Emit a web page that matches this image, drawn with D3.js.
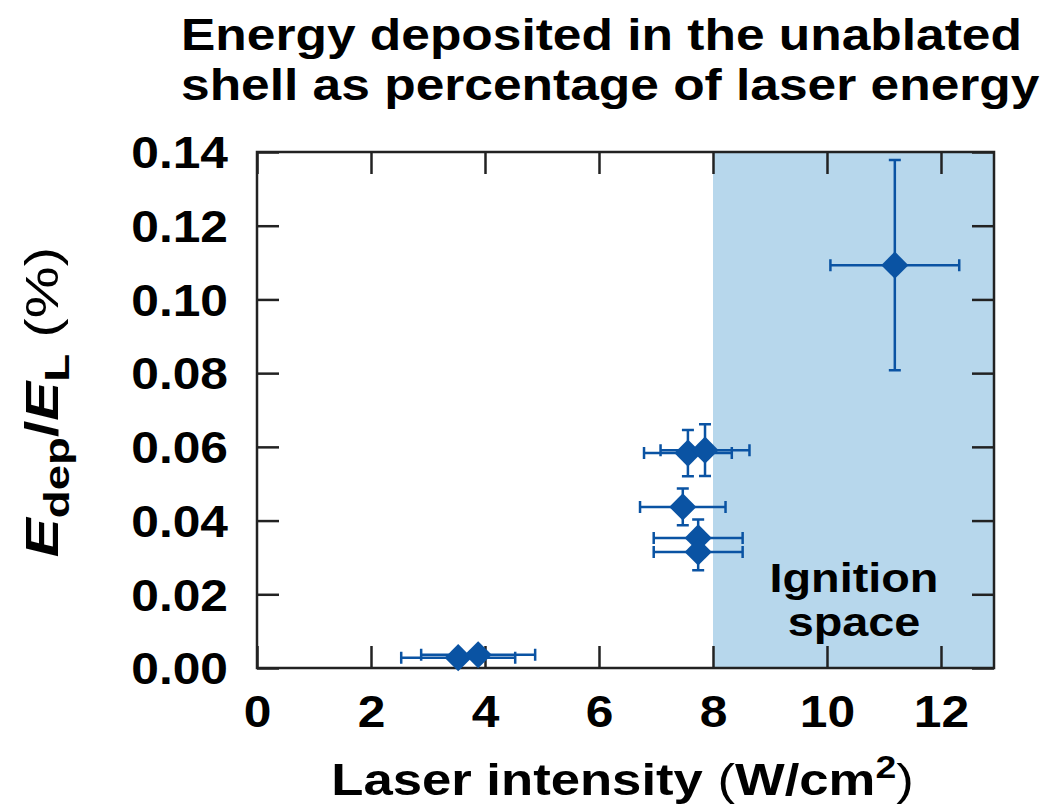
<!DOCTYPE html>
<html>
<head>
<meta charset="utf-8">
<script src="https://cdn.jsdelivr.net/npm/d3@7"></script>
<style>
  body { margin: 0; background: #fff; }
  svg text { font-family: "Liberation Sans", Arial, Helvetica, sans-serif; font-weight: bold; fill: #000; }
</style>
</head>
<body>
<div id="chart"></div>
<script>
"use strict";

// values
const intensity = [3.53, 3.88, 7.56, 7.86, 7.47, 7.74, 7.74, 11.19];
const intensityErr = [1.0, 1.0, 0.77, 0.78, 0.75, 0.78, 0.78, 1.13];
const energyFrac = [0.0028, 0.0036, 0.0583, 0.0591, 0.0437, 0.0353, 0.0315, 0.1093];
const energyErr = [0.001, 0.001, 0.0063, 0.007, 0.005, 0.005, 0.005, 0.0285];
const xTicks = [0, 2, 4, 6, 8, 10, 12];
const yTicks = [0, 0.02, 0.04, 0.06, 0.08, 0.10, 0.12, 0.14];
const ignitionStart = 8;
const titleLines = ["Energy deposited in the unablated", "shell as percentage of laser energy"];
const ignitionLabel = ["Ignition", "space"];

const width = 1048, height = 809;
const margin = { left: 257, right: 54, top: 152, bottom: 141 };
const blue = "#0a53a3";

// the original face is wider than Liberation Sans, so stretch glyphs a bit
function stretch(sel, k) {
  sel.each(function () {
    const len = this.getComputedTextLength();
    d3.select(this).attr("textLength", len * k).attr("lengthAdjust", "spacingAndGlyphs");
  });
}

const svg = d3.select("#chart").append("svg")
  .attr("width", width).attr("height", height);

const x = d3.scaleLinear().domain([0, 12.93]).range([margin.left, width - margin.right]);
const y = d3.scaleLinear().domain([0, 0.14]).range([height - margin.bottom, margin.top]);

// shaded ignition region
svg.append("rect")
  .attr("x", x(ignitionStart)).attr("y", y(0.14))
  .attr("width", x.range()[1] - x(ignitionStart))
  .attr("height", y(0) - y(0.14))
  .attr("fill", "#b7d7ec");

svg.selectAll("text.ign").data(ignitionLabel).join("text")
  .attr("class", "ign")
  .attr("text-anchor", "middle")
  .style("font-size", "40px")
  .attr("x", 854)
  .attr("y", (d, i) => 592 + i * 44)
  .text(d => d)
  .call(stretch, 1.17);

// axes with inward ticks on all four sides
const tickLen = 22;
const styleAxis = g => {
  g.select(".domain").remove();
  g.selectAll(".tick line").attr("stroke", "#222").attr("stroke-width", 2.5);
  g.selectAll(".tick text").style("font-size", "44px").attr("fill", "#000");
};

svg.append("g")
  .attr("transform", `translate(0,${y(0)})`)
  .call(d3.axisBottom(x).tickValues(xTicks).tickSizeInner(-tickLen).tickSizeOuter(0).tickPadding(27).tickFormat(d3.format("d")))
  .call(styleAxis)
  .call(g => g.selectAll(".tick text").attr("dy", "0.72em").call(stretch, 1.13));

svg.append("g")
  .attr("transform", `translate(0,${y(0.14)})`)
  .call(d3.axisTop(x).tickValues(xTicks).tickSizeInner(-tickLen).tickSizeOuter(0).tickFormat(""))
  .call(styleAxis);

svg.append("g")
  .attr("transform", `translate(${x(0)},0)`)
  .call(d3.axisLeft(y).tickValues(yTicks).tickSizeInner(-tickLen).tickSizeOuter(0).tickPadding(29).tickFormat(d3.format(".2f")))
  .call(styleAxis)
  .call(g => g.selectAll(".tick text").attr("dy", "0.36em").call(stretch, 1.13));

svg.append("g")
  .attr("transform", `translate(${x.range()[1]},0)`)
  .call(d3.axisRight(y).tickValues(yTicks).tickSizeInner(-tickLen).tickSizeOuter(0).tickFormat(""))
  .call(styleAxis);

// frame
svg.append("rect")
  .attr("x", x.range()[0]).attr("y", y(0.14))
  .attr("width", x.range()[1] - x.range()[0])
  .attr("height", y(0) - y(0.14))
  .attr("fill", "none").attr("stroke", "#222").attr("stroke-width", 2.5);

// error bars
const pts = intensity.map((v, i) => ({ x: v, xe: intensityErr[i], y: energyFrac[i], ye: energyErr[i] }));
const cap = 6;
const eb = svg.append("g").attr("stroke", blue).attr("stroke-width", 2.5).attr("fill", "none");

pts.forEach(d => {
  const cx = x(d.x), cy = y(d.y);
  const x0 = x(d.x - d.xe), x1 = x(d.x + d.xe);
  const y0 = y(d.y - d.ye), y1 = y(d.y + d.ye);
  eb.append("path").attr("d",
    `M${x0},${cy}H${x1}M${x0},${cy - cap}V${cy + cap}M${x1},${cy - cap}V${cy + cap}` +
    `M${cx},${y0}V${y1}M${cx - cap},${y0}H${cx + cap}M${cx - cap},${y1}H${cx + cap}`);
});

// diamond markers
svg.append("g").selectAll("path").data(pts).join("path")
  .attr("d", d3.symbol(d3.symbolSquare, 370)())
  .attr("transform", d => `translate(${x(d.x)},${y(d.y)}) rotate(45)`)
  .attr("fill", blue);

// title
svg.selectAll("text.title").data(titleLines).join("text")
  .attr("class", "title")
  .style("font-size", "44px")
  .attr("x", 181)
  .attr("y", (d, i) => 50 + i * 50)
  .text(d => d)
  .call(stretch, 1.17);

// x axis label
const xlx = (x.range()[0] + x.range()[1]) / 2 - 3;
const xl = svg.append("g")
  .attr("transform", `translate(${xlx},795) scale(1.17,1)`)
  .append("text")
  .attr("text-anchor", "middle")
  .style("font-size", "45px");
xl.append("tspan").text("Laser intensity ");
xl.append("tspan").style("font-weight", "normal").text("(");
xl.append("tspan").text("W/cm");
xl.append("tspan").attr("dy", -17).style("font-size", "32px").text("2");
xl.append("tspan").attr("dy", 17).style("font-weight", "normal").text(")");

// y axis label
const yl = svg.append("g")
  .attr("transform", `translate(58,${(y(0) + y(0.14)) / 2 - 8}) rotate(-90) scale(1.27,1)`)
  .append("text")
  .attr("text-anchor", "middle")
  .style("font-size", "46px");
yl.append("tspan").style("font-style", "italic").text("E");
yl.append("tspan").attr("dy", 11).style("font-size", "36px").text("dep");
yl.append("tspan").attr("dy", -11).text("/");
yl.append("tspan").style("font-style", "italic").text("E");
yl.append("tspan").attr("dy", 11).style("font-size", "36px").text("L");
yl.append("tspan").attr("dy", -11).style("font-weight", "normal").text(" (%)");
</script>
</body>
</html>
